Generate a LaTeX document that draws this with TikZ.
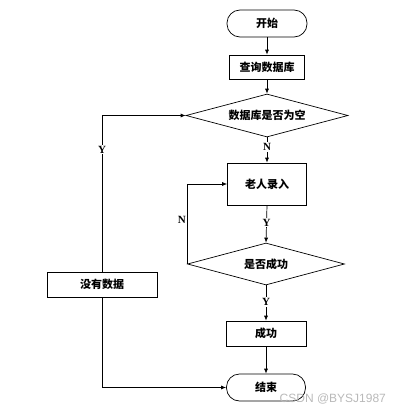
\documentclass[tikz,border=0pt]{standalone}
\usepackage{fontspec}
\setmainfont{Liberation Serif}
\newfontfamily\cjk{Noto Sans CJK SC}
\newfontfamily\wm{Liberation Sans}
\usetikzlibrary{shapes.geometric,arrows.meta}
\begin{document}
\begin{tikzpicture}[x=1pt,y=-1pt,
  line width=0.7pt,
  arr/.style={-{Latex[length=5pt,width=4pt]}},
  term/.style={draw, rectangle, rounded corners=13pt, minimum width=80pt, minimum height=27pt, inner sep=0pt, font=\cjk\bfseries\fontsize{11}{13}\selectfont},
  proc/.style={draw, rectangle, minimum width=78pt, inner sep=0pt, font=\cjk\bfseries\fontsize{11}{13}\selectfont},
  dec/.style={draw, diamond, aspect=3.75, inner sep=0pt, font=\cjk\bfseries\fontsize{11}{13}\selectfont},
  lab/.style={fill=white, inner sep=1pt, font=\bfseries\fontsize{11}{12}\selectfont}
]
\useasboundingbox (0,0) rectangle (408,415);
\node[term] (start) at (267,23.5) {开始};
\node[proc, minimum width=75pt, minimum height=24pt] (query) at (267,67) {查询数据库};
\node[dec, minimum width=162pt, minimum height=43pt] (d1) at (267,115.5) {数据库是否为空};
\node[proc, minimum width=79pt, minimum height=42pt] (input) at (267,184) {老人录入};
\node[dec, minimum width=157pt, minimum height=42pt] (d2) at (266,264) {是否成功};
\node[proc, minimum width=80pt, minimum height=25pt] (ok) at (266,333.5) {成功};
\node[term, minimum width=79pt] (end) at (266,387.5) {结束};
\node[proc, minimum width=110pt, minimum height=25pt] (nodata) at (102,284.5) {没有数据};

\draw[arr] (start) -- (query);
\draw[arr] (query) -- (d1);
\draw[arr] (d1.south) -- node[lab, pos=0.38] {N} (input.north);
\draw[arr] (input.south) -- node[lab, pos=0.47] {Y} (d2.north);
\draw[arr] (d2.south) -- node[lab, pos=0.47] {Y} (ok.north);
\draw[arr] (ok) -- (end);
\draw[arr] (d2.west) |- node[pos=0.275, left, inner sep=1pt, font=\bfseries\fontsize{11}{12}\selectfont] {N} (input.west);
\draw[arr] (nodata.north) |- node[lab, pos=0.39] {Y} (d1.west);
\draw[arr] (nodata.south) |- (end.west);

\node[text=gray!55, font=\wm\fontsize{12}{14}\selectfont, anchor=west] (wm) at (276,399) {CSDN @BYSJ1987};
\end{tikzpicture}
\end{document}
